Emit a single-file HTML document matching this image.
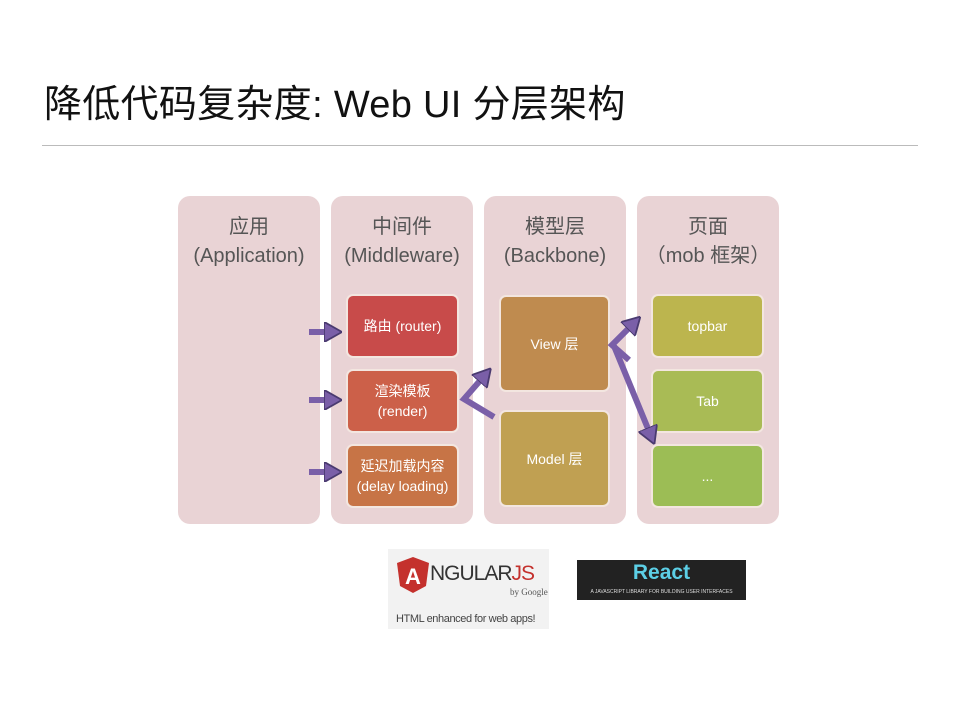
<!DOCTYPE html>
<html><head><meta charset="utf-8"><style>
body{margin:0;width:959px;height:720px;background:#fff;position:relative;overflow:hidden;font-family:"Liberation Sans","Noto Sans CJK SC",sans-serif}
.a{position:absolute}
.col{position:absolute;top:196px;height:328px;width:142px;background:#e9d3d5;border-radius:12px;text-align:center;color:#555;font-size:20px;line-height:29px;padding-top:17px;box-sizing:border-box;white-space:nowrap}
.b{position:absolute;border:2px solid #f3e6e0;border-radius:7px;color:#fff;font-size:14px;display:flex;align-items:center;justify-content:center;text-align:center;line-height:20px;box-sizing:border-box}
</style></head><body>
<div class="a" style="left:44px;top:73px;font-size:38px;color:#111;white-space:nowrap;letter-spacing:0.3px">降低代码复杂度: Web UI 分层架构</div>
<div class="a" style="left:42px;top:145px;width:876px;height:1px;background:#bbb"></div>
<div class="col" style="left:178px">应用<br>(Application)</div>
<div class="col" style="left:331px">中间件<br>(Middleware)</div>
<div class="col" style="left:484px">模型层<br>(Backbone)</div>
<div class="col" style="left:637px">页面<br>（mob 框架）</div>
<div class="b" style="left:346px;top:294px;width:113px;height:64px;background:#c84b4a">路由 (router)</div>
<div class="b" style="left:346px;top:369px;width:113px;height:64px;background:#cc6049">渲染模板<br>(render)</div>
<div class="b" style="left:346px;top:444px;width:113px;height:64px;background:#c77446">延迟加载内容<br>(delay loading)</div>
<div class="b" style="left:499px;top:295px;width:111px;height:97px;background:#bf8b4f">View 层</div>
<div class="b" style="left:499px;top:410px;width:111px;height:97px;background:#c0a052">Model 层</div>
<div class="b" style="left:651px;top:294px;width:113px;height:64px;background:#bcb54e">topbar</div>
<div class="b" style="left:651px;top:369px;width:113px;height:64px;background:#a9bb55">Tab</div>
<div class="b" style="left:651px;top:444px;width:113px;height:64px;background:#9cbd55">...</div>
<svg class="a" style="left:0;top:0" width="959" height="720">
<defs><marker id="m" markerWidth="3" markerHeight="3.4" refX="1.5" refY="1.7" orient="auto"><path d="M0,0L3,1.7L0,3.4z" fill="#7a5fa8" stroke="#4a3a70" stroke-width=".3"/></marker></defs>
<g stroke="#7a5fa8" stroke-width="6" fill="none" marker-end="url(#m)">
<line x1="309" y1="332" x2="333" y2="332"/>
<line x1="309" y1="400" x2="333" y2="400"/>
<line x1="309" y1="472" x2="333" y2="472"/>
<polyline points="494,417 464,399 485,375" />
<polyline points="629,360 612,345 634,323" stroke-linejoin="miter"/>
<line x1="614" y1="346" x2="651" y2="436"/>
</g>
</svg>
<div class="a" style="left:388px;top:549px;width:161px;height:80px;background:#f2f2f2"></div>
<svg class="a" style="left:396px;top:556px" width="34" height="38"><path d="M17,1L33,7L30,30L17,37L4,30L1,7z" fill="#c4312d"/><text x="17" y="28" font-size="22" font-weight="bold" fill="#fff" text-anchor="middle" font-family="Liberation Sans">A</text></svg>
<div class="a" style="left:430px;top:562px;font-size:21px;color:#333;letter-spacing:-1px">NGULAR<span style="color:#c4312d">JS</span></div>
<div class="a" style="left:510px;top:587px;font-size:9px;color:#555;font-family:'Liberation Serif',serif">by Google</div>
<div class="a" style="left:396px;top:613px;font-size:11px;color:#444;letter-spacing:-.4px">HTML enhanced for web apps!</div>
<div class="a" style="left:577px;top:560px;width:169px;height:40px;background:#222"></div>
<div class="a" style="left:577px;top:561px;width:169px;text-align:center;font-size:21px;color:#5ccfe6;font-weight:bold">React</div>
<div class="a" style="left:577px;top:589px;width:169px;text-align:center;font-size:5px;color:#ddd;white-space:nowrap">A JAVASCRIPT LIBRARY FOR BUILDING USER INTERFACES</div>
</body></html>
